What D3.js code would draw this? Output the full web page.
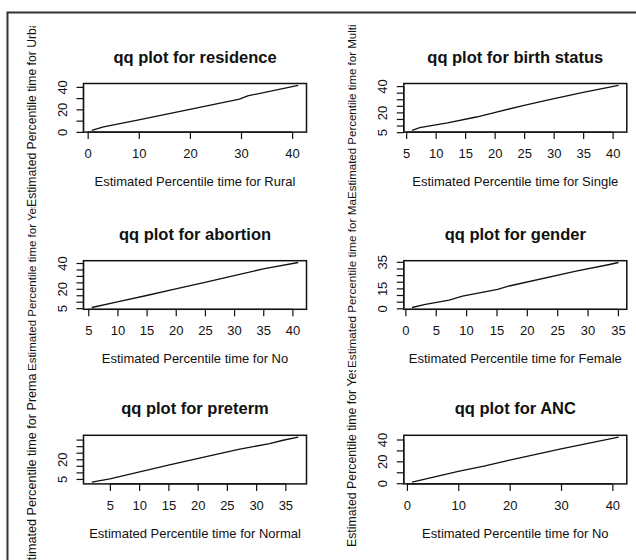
<!DOCTYPE html>
<html>
<head>
<meta charset="utf-8">
<script src="https://cdn.jsdelivr.net/npm/d3@7"></script>
<style>
  html, body { margin: 0; padding: 0; background: #fff; }
  svg { display: block; }
  text { font-family: "Liberation Sans", Arial, sans-serif; fill: #111; }
</style>
</head>
<body>
<svg id="chart" width="636" height="560"></svg>
<script>
// ---------------- data ----------------
const titles = ["qq plot for residence", "qq plot for birth status", "qq plot for abortion",
                "qq plot for gender", "qq plot for preterm", "qq plot for ANC"];
const xLabels = ["Estimated Percentile time for Rural", "Estimated Percentile time for Single",
                 "Estimated Percentile time for No", "Estimated Percentile time for Female",
                 "Estimated Percentile time for Normal", "Estimated Percentile time for No"];
const yLabels = ["Estimated Percentile time for Urban", "Estimated Percentile time for Multi",
                 "Estimated Percentile time for Yes", "Estimated Percentile time for Male",
                 "Estimated Percentile time for Premature", "Estimated Percentile time for Yes"];

const residenceX = [0.8, 3.1, 10, 20, 29.7, 31.3, 41.2];
const residenceY = [1.4, 4.5, 10.6, 20, 29.2, 32.0, 41.4];
const birthX = [6.0, 7.3, 12, 16.9, 20.3, 25, 29.3, 35, 41.0];
const birthY = [6.4, 8.5, 12, 16.5, 20.3, 25.3, 29.8, 35.2, 40.6];
const abortionX = [5.6, 10, 15, 20, 25, 30, 35, 41];
const abortionY = [5.5, 9.8, 14.8, 20, 25, 30.3, 35.4, 40.4];
const genderX = [1.1, 3.3, 7.2, 9.4, 15.2, 17.1, 28.1, 33.6, 35.1];
const genderY = [0.6, 3.0, 6.2, 9.2, 14.2, 16.8, 28.0, 33.0, 34.5];
const pretermX = [1.9, 5, 15, 22.6, 27, 32.3, 34.6, 37.2];
const pretermY = [2.6, 5, 15.6, 23.2, 27.5, 32, 34.5, 36.9];
const ancX = [1.0, 10, 15, 20, 30, 41.2];
const ancY = [1.0, 10.8, 15.6, 21.2, 31.5, 42.2];

const xTicksResidence = [0, 10, 20, 30, 40];
const yTicksResidence = [0, 10, 20, 30, 40];
const yTickLabelsResidence = ["0", "", "20", "", "40"];
const xTicksBirth = [5, 10, 15, 20, 25, 30, 35, 40];
const yTicksBirth = [5, 10, 15, 20, 25, 30, 35, 40];
const yTickLabelsBirth = ["5", "", "", "20", "", "", "", "40"];
const xTicksAbortion = [5, 10, 15, 20, 25, 30, 35, 40];
const yTicksAbortion = [5, 10, 15, 20, 25, 30, 35, 40];
const yTickLabelsAbortion = ["5", "", "", "20", "", "", "", "40"];
const xTicksGender = [0, 5, 10, 15, 20, 25, 30, 35];
const yTicksGender = [0, 5, 10, 15, 20, 25, 30, 35];
const yTickLabelsGender = ["0", "", "", "15", "", "", "", "35"];
const xTicksPreterm = [5, 10, 15, 20, 25, 30, 35];
const yTicksPreterm = [5, 10, 15, 20, 25, 30, 35];
const yTickLabelsPreterm = ["5", "", "", "20", "", "", ""];
const xTicksAnc = [0, 10, 20, 30, 40];
const yTicksAnc = [0, 10, 20, 30, 40];
const yTickLabelsAnc = ["0", "", "20", "", "40"];

const panels = [
  {x: residenceX, y: residenceY, xt: xTicksResidence, yt: yTicksResidence, ytl: yTickLabelsResidence},
  {x: birthX, y: birthY, xt: xTicksBirth, yt: yTicksBirth, ytl: yTickLabelsBirth},
  {x: abortionX, y: abortionY, xt: xTicksAbortion, yt: yTicksAbortion, ytl: yTickLabelsAbortion},
  {x: genderX, y: genderY, xt: xTicksGender, yt: yTicksGender, ytl: yTickLabelsGender},
  {x: pretermX, y: pretermY, xt: xTicksPreterm, yt: yTicksPreterm, ytl: yTickLabelsPreterm},
  {x: ancX, y: ancY, xt: xTicksAnc, yt: yTicksAnc, ytl: yTickLabelsAnc}
];

// ---------------- layout ----------------
const colLeft = [83.5, 403.8];
const plotW = 223;
const rowTop = [83.5, 260.7, 435.3];
const plotH = 48.6;
// y-label placement: bottom start of the rotated text, font size and clip band [col][row]
const ylabStart = [[207, 371, 575], [199, 368, 547]];
const ylabSize = [[12.2, 11.5, 12.6], [11.5, 11.7, 12.3]];
const ylabClip = [[[26, 207], [207, 374], [374, 560]], [[22, 199], [199, 370], [370, 560]]];

const svg = d3.select("#chart");
svg.append("rect").attr("width", 636).attr("height", 560).attr("fill", "#fff");

// outer frame (top and left edges visible)
svg.append("path")
  .attr("d", "M7.5,562 L7.5,12.5 L640,12.5")
  .attr("fill", "none").attr("stroke", "#333").attr("stroke-width", 2);

const defs = svg.append("defs");

function rExtent(arr) {
  const [a, b] = d3.extent(arr);
  const r = b - a;
  return [a - 0.04 * r, b + 0.04 * r];
}

panels.forEach((p, i) => {
  const col = i % 2, row = Math.floor(i / 2);
  const L = colLeft[col], T = rowTop[row], B = T + plotH, R = L + plotW;
  const xs = d3.scaleLinear().domain(rExtent(p.x)).range([L, R]);
  const ys = d3.scaleLinear().domain(rExtent(p.y)).range([B, T]);

  // y label (clipped like R figure region)
  const cid = "clip" + i;
  const band = ylabClip[col][row];
  defs.append("clipPath").attr("id", cid)
    .append("rect").attr("x", col * 320).attr("y", band[0])
    .attr("width", 320).attr("height", band[1] - band[0]);
  svg.append("g").attr("clip-path", `url(#${cid})`)
    .append("text")
    .attr("transform", `translate(${L - 48},${ylabStart[col][row]}) rotate(-90)`)
    .attr("text-anchor", "start")
    .attr("font-size", ylabSize[col][row])
    .text(yLabels[i]);

  // title
  svg.append("text")
    .attr("x", (L + R) / 2).attr("y", T - 21)
    .attr("text-anchor", "middle")
    .attr("font-size", 16.5).attr("font-weight", "bold")
    .text(titles[i]);

  // x axis
  const gx = svg.append("g").attr("transform", `translate(0,${B})`)
    .call(d3.axisBottom(xs).tickValues(p.xt).tickSize(7).tickFormat(d3.format("d")));
  gx.select(".domain").remove();
  gx.selectAll(".tick line").attr("stroke", "#111").attr("stroke-width", 1.2);
  gx.selectAll(".tick text").attr("y", 26).attr("dy", null)
    .attr("font-size", 13).attr("font-family", null).attr("fill", "#111");
  gx.append("line").attr("x1", xs(p.xt[0])).attr("x2", xs(p.xt[p.xt.length - 1]))
    .attr("stroke", "#111").attr("stroke-width", 1.2);

  // y axis
  const gy = svg.append("g").attr("transform", `translate(${L},0)`)
    .call(d3.axisLeft(ys).tickValues(p.yt).tickSize(7).tickFormat((d, k) => p.ytl[k]));
  gy.select(".domain").remove();
  gy.selectAll(".tick line").attr("stroke", "#111").attr("stroke-width", 1.2);
  gy.selectAll(".tick text").attr("x", null).attr("dy", null)
    .attr("transform", "translate(-17,0) rotate(-90)")
    .attr("text-anchor", "middle")
    .attr("font-size", 13).attr("font-family", null).attr("fill", "#111");
  gy.append("line").attr("y1", ys(p.yt[0])).attr("y2", ys(p.yt[p.yt.length - 1]))
    .attr("stroke", "#111").attr("stroke-width", 1.2);

  // qq line
  const pts = p.x.map((v, k) => [v, p.y[k]]);
  svg.append("path")
    .attr("d", d3.line().x(d => xs(d[0])).y(d => ys(d[1]))(pts))
    .attr("fill", "none").attr("stroke", "#111").attr("stroke-width", 1.3);

  // box
  svg.append("rect").attr("x", L).attr("y", T).attr("width", plotW).attr("height", plotH)
    .attr("fill", "none").attr("stroke", "#111").attr("stroke-width", 1.5);

  // x label
  svg.append("text")
    .attr("x", (L + R) / 2).attr("y", B + 54)
    .attr("text-anchor", "middle").attr("font-size", 13)
    .text(xLabels[i]);
});
</script>
</body>
</html>
